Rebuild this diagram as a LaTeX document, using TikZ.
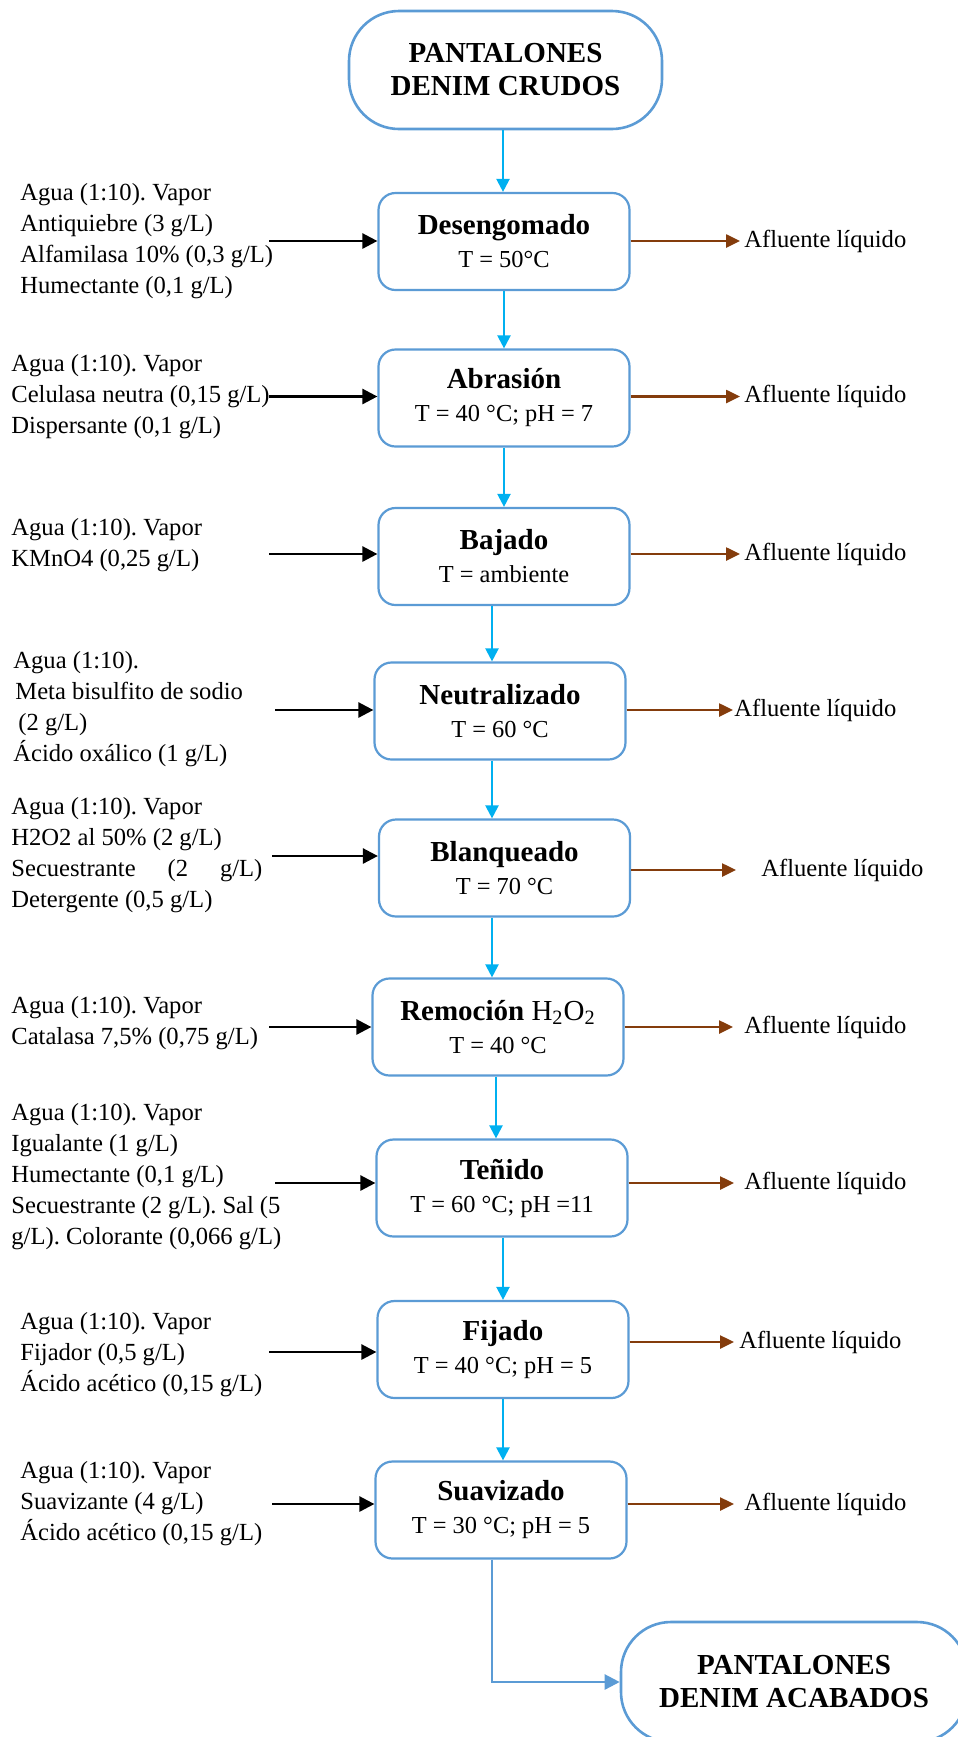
\documentclass[tikz,border=0pt]{standalone}
\usepackage{fontspec}
\setmainfont{Liberation Serif}
\usetikzlibrary{arrows.meta,calc}
\definecolor{boxblue}{HTML}{5B9BD5}
\definecolor{flowcyan}{HTML}{00B0F0}
\definecolor{wastebrown}{HTML}{843C0C}
\newcommand\ttl[1]{{\fontsize{14.5}{17}\selectfont #1}}
\frenchspacing

\tikzset{
  terminal/.style={draw=boxblue, line width=1.3pt, rounded corners=25pt,
    minimum width=156.5pt, minimum height=59pt, align=center,
    font=\fontsize{14.5}{16.5}\selectfont\bfseries, inner sep=0pt},
  proc/.style={draw=boxblue, line width=1.1pt, rounded corners=8.5pt,
    minimum width=125.5pt, minimum height=48.5pt, align=center,
    font=\fontsize{12.2}{16.5}\selectfont, inner sep=0pt, fill=white},
  inputs/.style={anchor=west, align=left,
    font=\fontsize{12.3}{15.5}\selectfont, inner sep=0pt},
  waste/.style={anchor=west, font=\fontsize{12.3}{14}\selectfont, inner sep=0pt},
  flow/.style={draw=flowcyan, line width=1.1pt, -{Triangle[length=6.5pt,width=6.5pt]}},
  feed/.style={draw=black, line width=1.3pt, -{Triangle[length=7.5pt,width=7.5pt]}},
  effluent/.style={draw=wastebrown, line width=1.3pt, -{Triangle[length=7pt,width=6.5pt]}},
  final/.style={draw=boxblue, line width=1.2pt, -{Triangle[length=7.5pt,width=7.5pt]}},
}

\begin{document}
\begin{tikzpicture}[x=0.5pt,y=-0.5pt]
\useasboundingbox (0,0) rectangle (958,1737);

% start and end of the process
\node[terminal] (top) at (505.5,70) {PANTALONES\\DENIM CRUDOS};
\node[terminal, minimum width=173pt, minimum height=60pt] (fin) at (794,1682)
  {PANTALONES\\DENIM ACABADOS};

% process steps
\node[proc] (b1) at (504,241.5) {\ttl{\textbf{Desengomado}}\\T = 50°C};
\node[proc] (b2) at (504,398) {\ttl{\textbf{Abrasión}}\\T = 40 °C; pH = 7};
\node[proc] (b3) at (504,556.5) {\ttl{\textbf{Bajado}}\\T = ambiente};
\node[proc] (b4) at (500,711) {\ttl{\textbf{Neutralizado}}\\T = 60 °C};
\node[proc] (b5) at (504.5,868) {\ttl{\textbf{Blanqueado}}\\T = 70 °C};
\node[proc] (b6) at (498,1027) {\ttl{\textbf{Remoción} H\textsubscript{2}O\textsubscript{2}}\\T = 40 °C};
\node[proc] (b7) at (502,1188) {\ttl{\textbf{Teñido}}\\T = 60 °C; pH =11};
\node[proc] (b8) at (503,1349.5) {\ttl{\textbf{Fijado}}\\T = 40 °C; pH = 5};
\node[proc] (b9) at (501,1510) {\ttl{\textbf{Suavizado}}\\T = 30 °C; pH = 5};

% chemical inputs
\node[inputs] (i1) at (20,241.5) {Agua (1:10). Vapor\\Antiquiebre (3 g/L)\\Alfamilasa 10\% (0,3 g/L)\\Humectante (0,1 g/L)};
\node[inputs] (i2) at (11,396.5) {Agua (1:10). Vapor\\Celulasa neutra (0,15 g/L)\\Dispersante (0,1 g/L)};
\node[inputs] (i3) at (11,545) {Agua (1:10). Vapor\\KMnO4 (0,25 g/L)};
\node[inputs] (i4) at (13,709) {Agua (1:10).\\\hspace{1pt}Meta bisulfito de sodio\\\hspace{2.5pt}(2 g/L)\\Ácido oxálico (1 g/L)};
\node[inputs] (i5) at (11,855) {Agua (1:10). Vapor\\H2O2 al 50\% (2 g/L)\\\makebox[125.5pt][s]{Secuestrante\hfill(2\hfill g/L)}\\Detergente (0,5 g/L)};
\node[inputs] (i6) at (11,1023.5) {Agua (1:10). Vapor\\Catalasa 7,5\% (0,75 g/L)};
\node[inputs] (i7) at (11,1177) {Agua (1:10). Vapor\\Igualante (1 g/L)\\Humectante (0,1 g/L)\\\makebox[134.5pt][s]{Secuestrante (2 g/L). Sal (5}\\g/L). Colorante (0,066 g/L)};
\node[inputs] (i8) at (20,1354.5) {Agua (1:10). Vapor\\Fijador (0,5 g/L)\\Ácido acético (0,15 g/L)};
\node[inputs] (i9) at (20,1504) {Agua (1:10). Vapor\\Suavizante (4 g/L)\\Ácido acético (0,15 g/L)};

% liquid effluents
\node[waste] (o1) at (744,241) {Afluente líquido};
\node[waste] (o2) at (744,396.5) {Afluente líquido};
\node[waste] (o3) at (744,554) {Afluente líquido};
\node[waste] (o4) at (734,710) {Afluente líquido};
\node[waste] (o5) at (761,870) {Afluente líquido};
\node[waste] (o6) at (744,1027) {Afluente líquido};
\node[waste] (o7) at (744,1183) {Afluente líquido};
\node[waste] (o8) at (739,1342) {Afluente líquido};
\node[waste] (o9) at (744,1504) {Afluente líquido};

% main flow between steps
\coordinate (a0) at ($(top.south)+(-2.5,0)$);
\coordinate (a1) at ($(b1.south)+(0,0)$);
\coordinate (a2) at ($(b2.south)+(0,0)$);
\coordinate (a3) at ($(b3.south)+(-12,0)$);
\coordinate (a4) at ($(b4.south)+(-8,0)$);
\coordinate (a5) at ($(b5.south)+(-12.5,0)$);
\coordinate (a6) at ($(b6.south)+(-2,0)$);
\coordinate (a7) at ($(b7.south)+(1,0)$);
\coordinate (a8) at ($(b8.south)+(0,0)$);
\coordinate (a9) at ($(b9.south)+(-9,0)$);
\draw[flow] (a0) -- (a0 |- b1.north);
\draw[flow] (a1) -- (a1 |- b2.north);
\draw[flow] (a2) -- (a2 |- b3.north);
\draw[flow] (a3) -- (a3 |- b4.north);
\draw[flow] (a4) -- (a4 |- b5.north);
\draw[flow] (a5) -- (a5 |- b6.north);
\draw[flow] (a6) -- (a6 |- b7.north);
\draw[flow] (a7) -- (a7 |- b8.north);
\draw[flow] (a8) -- (a8 |- b9.north);
\draw[final] (a9) |- (fin.west);

% feed arrows into each step
\coordinate (f1) at (269,241);
\coordinate (f2) at (269,396.5);
\coordinate (f3) at (269,554);
\coordinate (f4) at (275,710);
\coordinate (f5) at (272,856);
\coordinate (f6) at (269,1027);
\coordinate (f7) at (275,1183);
\coordinate (f8) at (269,1352);
\coordinate (f9) at (272,1504);
\foreach \k in {1,...,9} {\draw[feed] (f\k) -- (f\k -| b\k.west);}

% effluent arrows out of each step
\draw[effluent] (b1.east |- o1.west) -- ($(o1.west)+(-4,0)$);
\draw[effluent] (b2.east |- o2.west) -- ($(o2.west)+(-4,0)$);
\draw[effluent] (b3.east |- o3.west) -- ($(o3.west)+(-4,0)$);
\draw[effluent] (b4.east |- o4.west) -- ($(o4.west)+(-1,0)$);
\draw[effluent] (b5.east |- o5.west) -- ($(o5.west)+(-25,0)$);
\draw[effluent] (b6.east |- o6.west) -- ($(o6.west)+(-11,0)$);
\draw[effluent] (b7.east |- o7.west) -- ($(o7.west)+(-10,0)$);
\draw[effluent] (b8.east |- o8.west) -- ($(o8.west)+(-5,0)$);
\draw[effluent] (b9.east |- o9.west) -- ($(o9.west)+(-10,0)$);
\end{tikzpicture}
\end{document}
